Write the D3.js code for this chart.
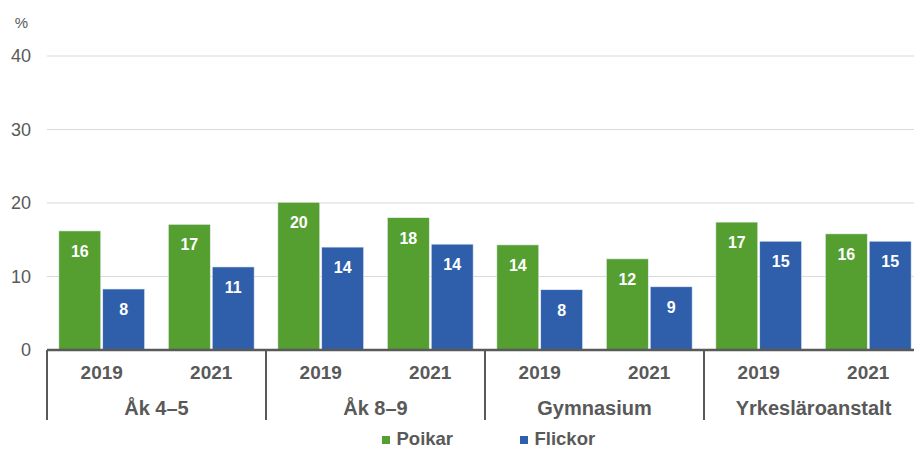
<!DOCTYPE html>
<html>
<head>
<meta charset="utf-8">
<script src="https://cdn.jsdelivr.net/npm/d3@7"></script>
<style>
  body { margin: 0; background: #fff; }
  text { font-family: "Liberation Sans", Arial, sans-serif; }
</style>
</head>
<body>
<script>
// data
const groups = ["Åk 4–5", "Åk 8–9", "Gymnasium", "Yrkesläroanstalt"];
const years = ["2019", "2021"];
const poikar = [16.2, 17.1, 20.1, 18.0, 14.3, 12.4, 17.4, 15.8];
const flickor = [8.3, 11.3, 14.0, 14.4, 8.2, 8.6, 14.8, 14.8];
const series = ["Poikar", "Flickor"];
const yTicks = [0, 10, 20, 30, 40];

const colors = {Poikar: "#559e30", Flickor: "#2f5fab"};

const W = 914, H = 450;
const plotLeft = 47, plotRight = 923, plotTop = 56, plotBottom = 350;

const svg = d3.select("body").append("svg")
  .attr("width", W)
  .attr("height", H);

//Scales
const y = d3.scaleLinear().domain([0, 40]).range([plotBottom, plotTop]);

const cats = [];
groups.forEach((g, gi) => years.forEach((yr, yi) => cats.push({g: g, yr: yr, i: gi * 2 + yi})));

const x0 = d3.scaleBand().domain(d3.range(cats.length)).range([plotLeft, plotRight]).padding(0);
const x1 = d3.scaleBand().domain(series).range([0, x0.bandwidth()]).paddingOuter(0.27).paddingInner(0.045);
const xg = d3.scaleBand().domain(groups).range([plotLeft, plotRight]).padding(0);

//Gridlines
svg.append("g")
  .selectAll("line")
  .data(yTicks.filter(d => d > 0))
  .enter()
  .append("line")
    .attr("x1", plotLeft)
    .attr("x2", plotRight)
    .attr("y1", d => y(d))
    .attr("y2", d => y(d))
    .attr("stroke", "#d9d9d9")
    .attr("stroke-width", 1);

//Y tick labels
svg.append("g")
  .selectAll("text")
  .data(yTicks)
  .enter()
  .append("text")
    .attr("x", 31)
    .attr("y", d => y(d))
    .attr("dy", "0.35em")
    .attr("text-anchor", "end")
    .attr("font-size", "18px")
    .attr("fill", "#595959")
    .text(d => d);

svg.append("text")
  .attr("x", 21.5)
  .attr("y", 28)
  .attr("text-anchor", "middle")
  .attr("font-size", "15px")
  .attr("fill", "#595959")
  .text("%");

//Bars
const rows = cats.map((c, i) => ({i: i, Poikar: poikar[i], Flickor: flickor[i]}));

const catG = svg.append("g")
  .selectAll("g")
  .data(rows)
  .enter()
  .append("g")
    .attr("transform", d => "translate(" + x0(d.i) + ",0)");

const bars = catG.selectAll("g.bar")
  .data(d => series.map(s => ({s: s, v: d[s]})))
  .enter()
  .append("g")
    .attr("class", "bar");

bars.append("rect")
  .attr("x", d => x1(d.s))
  .attr("y", d => y(d.v))
  .attr("width", x1.bandwidth())
  .attr("height", d => y(0) - y(d.v))
  .attr("fill", d => colors[d.s])
  .attr("stroke", "#e8eef5")
  .attr("stroke-width", 0.6);

bars.append("text")
  .attr("x", d => x1(d.s) + x1.bandwidth() / 2)
  .attr("y", d => y(d.v) + 26)
  .attr("text-anchor", "middle")
  .attr("font-size", "16px")
  .attr("font-weight", "bold")
  .attr("fill", "#fff")
  .text(d => Math.round(d.v));

//X axis line
svg.append("line")
  .attr("x1", plotLeft)
  .attr("x2", plotRight)
  .attr("y1", y(0))
  .attr("y2", y(0))
  .attr("stroke", "#595959")
  .attr("stroke-width", 2.5);

//Group separators
svg.append("g")
  .selectAll("line")
  .data(groups)
  .enter()
  .append("line")
    .attr("x1", d => xg(d))
    .attr("x2", d => xg(d))
    .attr("y1", y(0))
    .attr("y2", 420)
    .attr("stroke", "#595959")
    .attr("stroke-width", 2);

//Year labels
svg.append("g")
  .selectAll("text")
  .data(cats)
  .enter()
  .append("text")
    .attr("x", d => x0(d.i) + x0.bandwidth() / 2)
    .attr("y", 379)
    .attr("text-anchor", "middle")
    .attr("font-size", "19px")
    .attr("font-weight", "bold")
    .attr("fill", "#595959")
    .text(d => d.yr);

//Group labels
svg.append("g")
  .selectAll("text")
  .data(groups)
  .enter()
  .append("text")
    .attr("x", d => xg(d) + xg.bandwidth() / 2)
    .attr("y", 415)
    .attr("text-anchor", "middle")
    .attr("font-size", "20px")
    .attr("font-weight", "bold")
    .attr("fill", "#595959")
    .text(d => d);

//Legend
const legendX = [382, 520];
const legend = svg.append("g")
  .selectAll("g")
  .data(series)
  .enter()
  .append("g")
    .attr("transform", (d, i) => "translate(" + legendX[i] + ",445)");

legend.append("rect")
  .attr("x", 0)
  .attr("y", -9)
  .attr("width", 8)
  .attr("height", 8)
  .attr("fill", d => colors[d]);

legend.append("text")
  .attr("x", 14.5)
  .attr("y", 0)
  .attr("font-size", "18.5px")
  .attr("font-weight", "bold")
  .attr("fill", "#595959")
  .text(d => d);
</script>
</body>
</html>
